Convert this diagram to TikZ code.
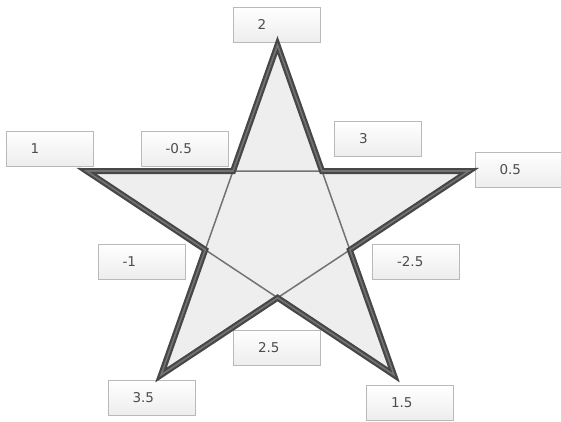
\documentclass[tikz,border=0pt]{standalone}
\usepackage{fontspec}
\setsansfont{DejaVu Sans}
\begin{document}
\begin{tikzpicture}[x=1pt,y=-1pt,line join=miter,
  numbox/.style={draw=gray!55,line width=.8pt,top color=white,bottom color=gray!14,
    minimum height=35pt,text width=38pt,inner xsep=24.5pt,inner ysep=0pt,align=left,
    font=\sffamily\fontsize{13.5}{13.5}\selectfont,text=black!70}]
\useasboundingbox (0,0) rectangle (561,422);
% value boxes
\foreach \n/\x/\y/\t in {b1/276.5/24.5/2,b2/49.5/148.5/1,b3/184.5/148.5/-0.5,
  b4/378/139/3,b5/518.5/169.5/0.5,b6/141.5/261.5/-1,b7/416/261.5/-2.5,
  b8/277/347.5/2.5,b9/151.5/397.5/3.5,b10/410/403/1.5}{
  \node[numbox] (\n) at (\x,\y) {\t};
}
% star
\coordinate (T) at (277.5,45);
\coordinate (L) at (86.5,171);
\coordinate (R) at (469,171);
\coordinate (BL) at (161,375);
\coordinate (BR) at (394,375);
\coordinate (p1) at (intersection of T--BL and L--R);
\coordinate (p2) at (intersection of T--BR and L--R);
\coordinate (p3) at (intersection of T--BR and R--BL);
\coordinate (p4) at (intersection of R--BL and L--BR);
\coordinate (p5) at (intersection of L--BR and T--BL);
\def\starline{(T)--(p2)--(R)--(p3)--(BR)--(p4)--(BL)--(p5)--(L)--(p1)--cycle}
\fill[gray!13] \starline;
\draw[black!55,line width=1.5pt] (p1)--(p2)--(p3)--(p4)--(p5)--cycle;
\draw[black!72,line width=6pt] \starline;
\draw[black!55,line width=1.6pt] \starline;
\end{tikzpicture}
\end{document}
